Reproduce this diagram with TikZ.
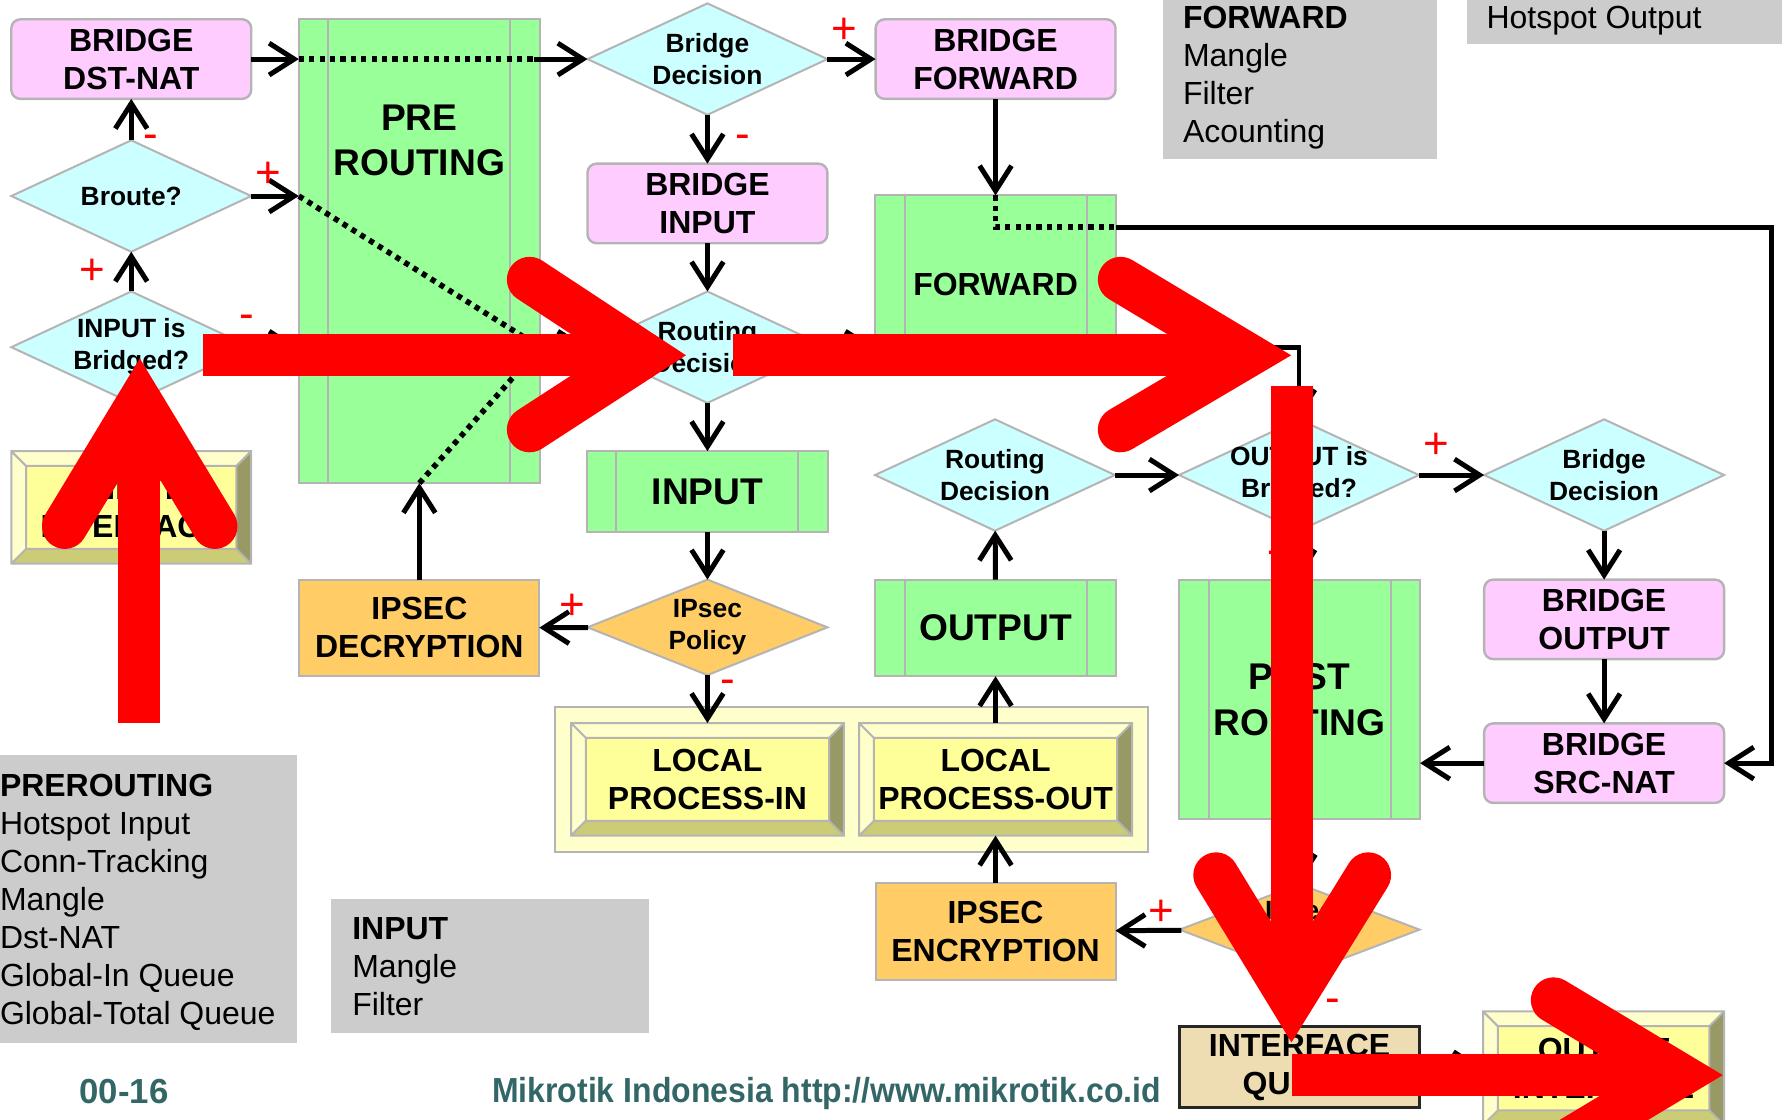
\documentclass[tikz,border=0pt]{standalone}
\usepackage{graphicx}
\usepackage{fontspec}
\setmainfont{Liberation Sans}
\usetikzlibrary{shapes.geometric,arrows.meta}

\definecolor{pinkbox}{HTML}{FFCCFF}
\definecolor{cyanbox}{HTML}{CCFFFF}
\definecolor{greenbox}{HTML}{99FF99}
\definecolor{orangebox}{HTML}{FFCC66}
\definecolor{labelgray}{HTML}{CCCCCC}
\definecolor{edgegray}{HTML}{B4B4B4}
\definecolor{bvface}{HTML}{FFFF99}
\definecolor{bvlight}{HTML}{FFFFCC}
\definecolor{bvdark}{HTML}{999966}
\definecolor{bvlow}{HTML}{CCCC77}
\definecolor{queuetan}{HTML}{EEDDB2}
\definecolor{footteal}{HTML}{336666}

\newcommand\boxfnt{\fontsize{8}{9.5}\selectfont\bfseries}
\newcommand\bigfnt{\fontsize{9.3}{11.4}\selectfont\bfseries}
\newcommand\decfnt{\fontsize{6.6}{8}\selectfont\bfseries}
\newcommand\listfnt{\fontsize{8}{9.53}\selectfont}
\newcommand\signfnt{\fontsize{11}{13}\selectfont}
\newcommand\footfnt{\fontsize{8.7}{10}\selectfont\bfseries}

% raised edges of a button node
\newcommand\bevel[1]{%
  \fill[bvlight] (#1.north west) -- (#1.north east) -- ([shift={(-13,13)}]#1.north east) -- ([shift={(13,13)}]#1.north west) -- cycle;
  \fill[bvlight] (#1.north west) -- (#1.south west) -- ([shift={(13,-13)}]#1.south west) -- ([shift={(13,13)}]#1.north west) -- cycle;
  \fill[bvdark] (#1.north east) -- (#1.south east) -- ([shift={(-13,-13)}]#1.south east) -- ([shift={(-13,13)}]#1.north east) -- cycle;
  \fill[bvlow] (#1.south west) -- (#1.south east) -- ([shift={(-13,-13)}]#1.south east) -- ([shift={(13,-13)}]#1.south west) -- cycle;
  \draw[edgegray,line width=0.5pt] (#1.north west) rectangle (#1.south east)
    ([shift={(13,13)}]#1.north west) rectangle ([shift={(-13,-13)}]#1.south east)
    (#1.north west) -- ([shift={(13,13)}]#1.north west)
    (#1.north east) -- ([shift={(-13,13)}]#1.north east)
    (#1.south west) -- ([shift={(13,-13)}]#1.south west)
    (#1.south east) -- ([shift={(-13,-13)}]#1.south east);}
% inner bars of a chain box
\newcommand\sidebars[1]{%
  \draw[edgegray,line width=0.5pt] ([shift={(26,0)}]#1.north west) -- ([shift={(26,0)}]#1.south west)
    ([shift={(-26,0)}]#1.north east) -- ([shift={(-26,0)}]#1.south east);}

\begin{document}
\begin{tikzpicture}
[x=0.01cm,y=-0.01cm,
 every node/.style={inner sep=0pt,outer sep=0pt},
 bridgebox/.style={rectangle,rounded corners=0.08cm,fill=pinkbox,draw=edgegray,line width=0.6pt,
   minimum width=2.11cm,minimum height=0.70cm,font=\boxfnt,align=center},
 chain/.style={rectangle,fill=greenbox,draw=edgegray,line width=0.5pt,minimum width=2.12cm,align=center},
 ipsecbox/.style={rectangle,fill=orangebox,draw=edgegray,line width=0.5pt,
   minimum width=2.11cm,minimum height=0.85cm,font=\boxfnt,align=center},
 decision/.style={diamond,fill=cyanbox,draw=edgegray,line width=0.5pt,minimum width=2.11cm,minimum height=0.98cm},
 dtext/.style={font=\decfnt,align=center},
 button/.style={rectangle,fill=bvface,minimum height=0.99cm,font=\boxfnt,align=center},
 listtext/.style={font=\listfnt,align=left,anchor=north west},
 sign/.style={font=\signfnt,text=red},
 flow/.style={line width=1.25pt,-{Straight Barb[length=2.2mm,width=2.8mm]}},
 dots/.style={line width=1.4pt,dash pattern=on 1.3pt off 1.3pt},
 shaft/.style={draw=red,line width=0.37cm},
 barb/.style={draw=red,line width=0.40cm,line cap=round,line join=miter}]
\useasboundingbox (0,0) rectangle (1568,985);

% chain lists
\fill[labelgray] (1023,0) rectangle (1264,140);
\node[listtext] (fwdlist) at (1041,5) {\textbf{FORWARD}\\Mangle\\Filter\\Acounting};
\fill[labelgray] (1291,0) rectangle (1568,39);
\node[listtext] (hslist) at (1308,5) {Hotspot Output};
\fill[labelgray] (0,664) rectangle (261,918);
\node[listtext] (prelist) at (0,681) {\textbf{PREROUTING}\\Hotspot Input\\Conn-Tracking\\Mangle\\Dst-NAT\\Global-In Queue\\Global-Total Queue};
\fill[labelgray] (291,791) rectangle (571,909);
\node[listtext] (inlist) at (310,807) {\textbf{INPUT}\\Mangle\\Filter};

\draw[edgegray,fill=bvlight,line width=0.5pt] (488,622) rectangle (1010,750);

% input side
\node[bridgebox] (dstnat) at (115.5,52) {BRIDGE\\DST-NAT};
\node[decision,label={[dtext]center:Broute?}] (broute) at (115.5,172.5) {};
\node[decision,label={[dtext]center:INPUT is\\Bridged?}] (inbr) at (115.5,305.5) {};
\node[button,minimum width=2.11cm] (inif) at (115.5,446.5) {INPUT\\INTERFACE};
\node[chain,minimum height=4.08cm,label={[font=\bigfnt,align=center,yshift=0.975cm]center:PRE\\ROUTING}] (pre) at (369,221) {};
\node[ipsecbox] (decr) at (369,552.5) {IPSEC\\DECRYPTION};
\node[decision,label={[dtext]center:Bridge\\Decision}] (bdec) at (622.5,52) {};
\node[bridgebox] (bin) at (622.5,179) {BRIDGE\\INPUT};
\node[decision,label={[dtext]center:Routing\\Decision}] (rdec) at (622.5,305.5) {};
\node[chain,minimum height=0.71cm,font=\bigfnt] (input) at (622.5,432.5) {INPUT};
\node[decision,fill=orangebox,minimum height=0.84cm,label={[dtext]center:IPsec\\Policy}] (polin) at (622.5,552) {};
\node[button,minimum width=2.40cm] (lpin) at (622.5,685.75) {LOCAL\\PROCESS-IN};

% forward and output side
\node[bridgebox] (bfwd) at (876,52) {BRIDGE\\FORWARD};
\node[chain,minimum height=1.56cm,font=\boxfnt] (fwd) at (876,250) {FORWARD};
\node[decision,label={[dtext]center:Routing\\Decision}] (rdec2) at (875.5,418) {};
\node[chain,minimum height=0.85cm,font=\bigfnt] (output) at (876,552.5) {OUTPUT};
\node[button,minimum width=2.40cm] (lpout) at (876,685.75) {LOCAL\\PROCESS-OUT};
\node[ipsecbox] (encr) at (876,819.5) {IPSEC\\ENCRYPTION};
\node[decision,label={[dtext]center:OUTPUT is\\Bridged?}] (outbr) at (1143,418) {};
\node[chain,minimum height=2.11cm,font=\bigfnt] (post) at (1143.5,615.5) {POST\\ROUTING};
\node[decision,fill=orangebox,minimum height=0.80cm,label={[dtext]center:IPsec\\Policy}] (polout) at (1143.5,818) {};
\node[rectangle,fill=queuetan,draw=black!85,line width=0.8pt,minimum width=2.11cm,minimum height=0.715cm,
  font=\boxfnt,align=center] (queue) at (1143.5,939) {INTERFACE\\QUEUE};
\node[decision,label={[dtext]center:Bridge\\Decision}] (bdec2) at (1411.5,418) {};
\node[bridgebox] (bout) at (1411.5,545) {BRIDGE\\OUTPUT};
\node[bridgebox] (bsnat) at (1411.5,671.5) {BRIDGE\\SRC-NAT};
\node[button,minimum width=2.12cm,minimum height=1.0cm] (outif) at (1411,940) {OUTPUT\\INTERFACE};

\bevel{inif} \bevel{lpin} \bevel{lpout} \bevel{outif}
\sidebars{pre} \sidebars{fwd} \sidebars{input} \sidebars{output} \sidebars{post}

% connectors
\coordinate (p1) at (470,52);
\coordinate (pj) at (pre.east |- rdec);
\coordinate (f1) at (876,200);
\coordinate (fr) at (1559,200);
\draw[flow] (dstnat) -- (pre.west |- dstnat);
\draw[dots] (pre.west |- dstnat) -- (p1);
\draw[flow] (p1) -- (bdec);
\draw[flow] (broute) -- (dstnat);
\draw[flow] (inbr) -- (broute);
\draw[flow] (inif) -- (inbr);
\draw[flow] (broute) -- (pre.west |- broute);
\draw[dots] (pre.west |- broute) -- (pj);
\draw[flow] (inbr) -- (pre.west |- inbr);
\draw[dots] (pre.west |- inbr) -- (pj);
\draw[flow] (decr) -- (decr |- pre.south);
\draw[dots] (decr |- pre.south) -- (pj);
\draw[flow] (pj) -- (rdec);
\draw[flow] (bdec) -- (bfwd);
\draw[flow] (bdec) -- (bin);
\draw[flow] (bin) -- (rdec);
\draw[flow] (rdec) -- (input);
\draw[flow] (rdec) -- (fwd.west |- rdec);
\draw[flow] (input) -- (polin);
\draw[flow] (polin) -- (decr);
\draw[flow] (polin) -- (lpin);
\draw[flow] (bfwd) -- (fwd);
\draw[dots] (fwd.north) -- (f1) -- (fwd.east |- f1);
\draw[flow] (fwd.east |- f1) -- (fr) |- (bsnat);
\draw[flow] (fwd.east |- rdec) -| (outbr);
\draw[flow] (lpout) -- (output);
\draw[flow] (output) -- (rdec2);
\draw[flow] (rdec2) -- (outbr);
\draw[flow] (outbr) -- (bdec2);
\draw[flow] (bdec2) -- (bout);
\draw[flow] (bout) -- (bsnat);
\draw[flow] (bsnat) -- (post.east |- bsnat);
\draw[flow] (outbr) -- (post);
\draw[flow] (post) -- (polout);
\draw[flow] (polout) -- (encr);
\draw[flow] (encr) -- (lpout);
\draw[flow] (polout) -- (queue);
\draw[flow] (queue) -- (outif);

\node[sign] (s1) at (743,27) {+};
\node[sign] (s2) at (133,125) {-};
\node[sign] (s3) at (236,154) {+};
\node[sign] (s4) at (81.5,239) {+};
\node[sign] (s5) at (217,283) {-};
\node[sign] (s6) at (654,125) {-};
\node[sign] (s7) at (504,534) {+};
\node[sign] (s8) at (640,604) {-};
\node[sign] (s9) at (1264,392) {+};
\node[sign] (s10) at (1122,491) {-};
\node[sign] (s11) at (1021.6,803) {+};
\node[sign] (s12) at (1173,885) {-};

\node[font=\footfnt,text=footteal,anchor=base west] (page) at (70,971) {00-16};
\node[font=\footfnt,text=footteal,anchor=base west] (site) at (433,970) {\scalebox{0.92}[1]{Mikrotik Indonesia http://www.mikrotik.co.id}};

% red overlay arrows
\draw[shaft] (122.5,636) -- (122.5,354);
\draw[barb] (57,463) -- (123,354) -- (189,463);
\draw[shaft] (179,312.5) -- (567,312.5);
\draw[barb] (466,246) -- (567,312.5) -- (466,378);
\draw[shaft] (645,312.5) -- (1097,312.5);
\draw[barb] (986,246) -- (1097,312.5) -- (986,378);
\draw[shaft] (1136.5,340) -- (1136.5,879);
\draw[barb] (1070,770) -- (1136.5,879) -- (1204,770);
\draw[shaft] (1137,946) -- (1477,946);
\draw[barb] (1367,880) -- (1477,946) -- (1367,1012);
\end{tikzpicture}
\end{document}
